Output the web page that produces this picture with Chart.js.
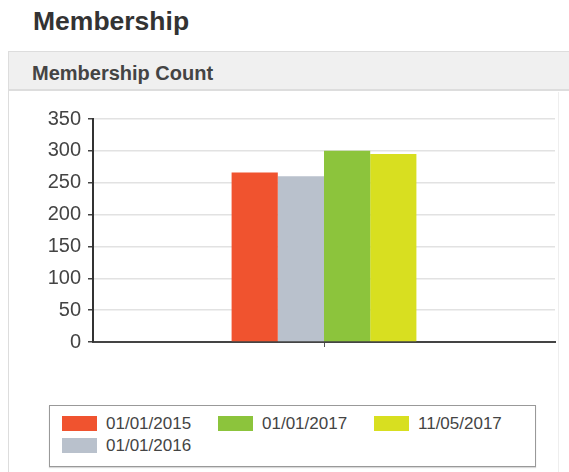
<!DOCTYPE html>
<html>
<head>
<meta charset="utf-8">
<script src="https://cdn.jsdelivr.net/npm/chart.js@4.4.0/dist/chart.umd.min.js"></script>
<style>
  html, body { margin:0; padding:0; background:#fff; width:569px; height:472px; overflow:hidden; font-family:"Liberation Sans", Arial, sans-serif; }
  #title { position:absolute; left:33px; top:6px; font-size:26.5px; font-weight:bold; color:#333; }
  #panel { position:absolute; left:8px; top:51px; width:570px; height:430px; border-left:1px solid #ddd; border-top:1px solid #ddd; }
  #head { position:absolute; left:0; top:0; right:0; height:37px; background:#f0f0f0; border-bottom:2px solid #ddd; }
  #head span { position:absolute; left:23px; top:10px; font-size:20px; font-weight:bold; color:#444; }
  #vline { position:absolute; left:558px; top:92px; width:1px; height:380px; background:#eee; }
  #wrap { position:absolute; left:0; top:100px; width:569px; height:261px; }
  #legend { position:absolute; left:49px; top:405px; width:485px; height:60px; border:1px solid #999; box-shadow:0 1px 1px rgba(0,0,0,0.15); background:#fff; }
  .item { position:absolute; height:16px; font-size:17px; color:#444; line-height:16px; white-space:nowrap; }
  .sw { display:inline-block; width:35px; height:15px; vertical-align:top; margin-right:9px; }
</style>
</head>
<body>
<div id="title">Membership</div>
<div id="panel"><div id="head"><span>Membership Count</span></div></div>
<div id="vline"></div>
<div id="wrap"><canvas id="c" width="569" height="261"></canvas></div>
<div id="legend"></div>
<script>
const categories = [''];
const seriesNames = ['01/01/2015', '01/01/2016', '01/01/2017', '11/05/2017'];
const seriesValues = [[266], [260], [300], [295]];
const seriesColors = ['#f0532f', '#b9c1cc', '#8cc43c', '#d8df20'];
const yTicks = [0, 50, 100, 150, 200, 250, 300, 350];

const datasets = seriesNames.map((n, i) => ({
  label: n,
  data: seriesValues[i],
  backgroundColor: seriesColors[i],
  borderWidth: 0,
  categoryPercentage: 0.4,
  barPercentage: 1.0
}));

new Chart(document.getElementById('c'), {
  type: 'bar',
  data: { labels: categories, datasets },
  options: {
    responsive: false,
    animation: false,
    layout: { padding: { left: 0, right: 14, top: 18, bottom: 0 } },
    plugins: { legend: { display: false }, tooltip: { enabled: false } },
    scales: {
      x: {
        ticks: { display: false },
        grid: { drawOnChartArea: false, offset: false, tickLength: 5, tickColor: '#555', lineWidth: 1 },
        border: { display: true, color: '#444', width: 2 },
        afterFit: (s) => { s.height = 15; }
      },
      y: {
        min: 0, max: 350,
        afterBuildTicks: (s) => { s.ticks = yTicks.map(v => ({ value: v })); },
        ticks: { color: '#444', font: { family: 'Liberation Sans, Arial', size: 20 }, padding: 7 },
        grid: { color: '#e2e2e2', lineWidth: 1.5, tickLength: 5, tickColor: '#444' },
        border: { display: true, color: '#333', width: 2 },
        afterFit: (s) => { s.width = 93; }
      }
    }
  }
});

// HTML legend: column-major, 2 rows
const legend = document.getElementById('legend');
const pos = [[12, 10], [12, 32], [168, 10], [324, 10]];
seriesNames.forEach((n, i) => {
  const d = document.createElement('div');
  d.className = 'item';
  d.style.left = pos[i][0] + 'px';
  d.style.top = pos[i][1] + 'px';
  d.innerHTML = '<span class="sw" style="background:' + seriesColors[i] + '"></span>' + n;
  legend.appendChild(d);
});
</script>
</body>
</html>
